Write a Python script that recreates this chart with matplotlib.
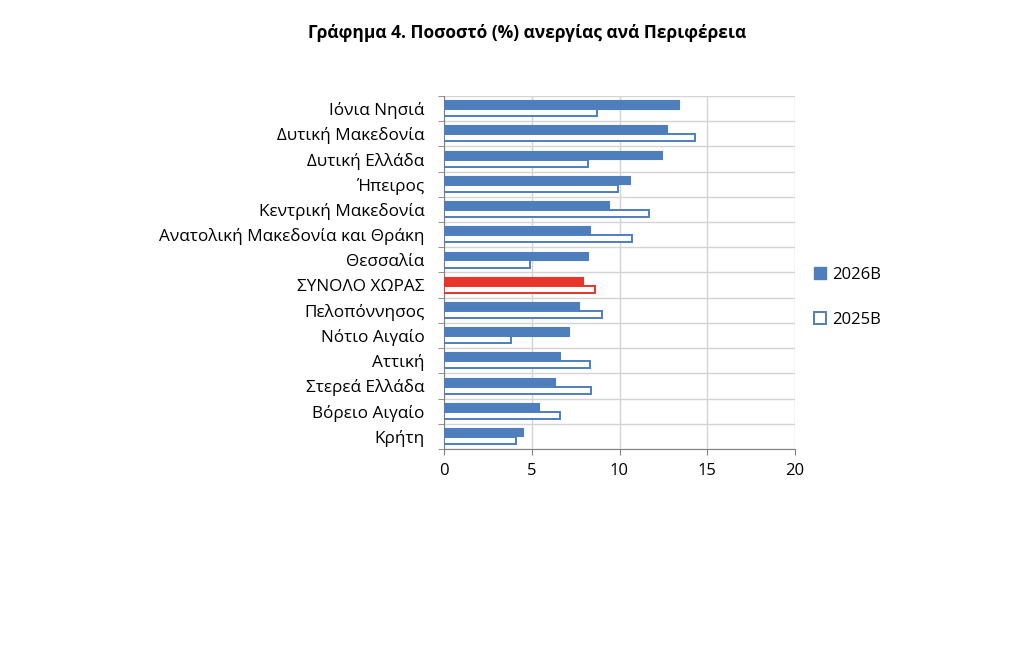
import numpy as np
import matplotlib
matplotlib.use("Agg")
import matplotlib.pyplot as plt
from matplotlib.patches import Patch

plt.rcParams['font.family'] = ['Open Sans', 'DejaVu Sans']

regions = ["Ιόνια Νησιά", "Δυτική Μακεδονία", "Δυτική Ελλάδα", "Ήπειρος",
           "Κεντρική Μακεδονία", "Ανατολική Μακεδονία και Θράκη", "Θεσσαλία",
           "ΣΥΝΟΛΟ ΧΩΡΑΣ", "Πελοπόννησος", "Νότιο Αιγαίο", "Αττική",
           "Στερεά Ελλάδα", "Βόρειο Αιγαίο", "Κρήτη"]
rate_2026 = [13.4, 12.7, 12.4, 10.6, 9.4, 8.3, 8.2, 7.9, 7.7, 7.1, 6.6, 6.3, 5.4, 4.5]
rate_2025 = [8.7, 14.3, 8.2, 9.9, 11.7, 10.7, 4.9, 8.6, 9.0, 3.8, 8.3, 8.4, 6.6, 4.1]
total_label = "ΣΥΝΟΛΟ ΧΩΡΑΣ"

blue = "#4F7EBD"
red = "#E8342A"

fig = plt.figure(figsize=(10.24, 6.45), dpi=100)
ax = fig.add_axes([0.4336, 0.3039, 0.3428, 0.5473])

n = len(regions)
y = np.arange(n)
h = 0.33
colors = [red if r == total_label else blue for r in regions]

ax.barh(y - h / 2, rate_2026, height=h, color=colors, edgecolor=colors, linewidth=0.8, zorder=3)
ax.barh(y + h / 2, rate_2025, height=h * 0.85, color="white", edgecolor=colors, linewidth=1.4, zorder=3)

ax.set_ylim(n - 0.5, -0.5)
ax.set_xlim(0, 20)
ax.set_xticks([0, 5, 10, 15, 20])
ax.set_yticks(y)
ax.set_yticklabels(regions, fontsize=12.3)
ax.set_yticks(np.arange(-0.5, n, 1), minor=True)
ax.tick_params(axis="y", which="major", length=0, pad=14)
ax.tick_params(axis="y", which="minor", length=4, color="#808080")
ax.tick_params(axis="x", length=4, color="#808080", labelsize=12, pad=6)

ax.grid(axis="x", which="major", color="#D4D4D4", linewidth=1, zorder=0)
ax.grid(axis="y", which="minor", color="#D4D4D4", linewidth=1, zorder=0)
ax.set_axisbelow(True)
for s in ["top", "right"]:
    ax.spines[s].set_visible(False)
for s in ["left", "bottom"]:
    ax.spines[s].set_color("#808080")

handles = [Patch(facecolor=blue, edgecolor=blue), Patch(facecolor="white", edgecolor=blue, linewidth=1.4)]
fig.legend(handles, ["2026B", "2025B"], loc="center left", bbox_to_anchor=(0.78, 0.539),
           frameon=False, fontsize=12, labelspacing=1.75, handlelength=0.75, handleheight=0.75,
           handletextpad=0.35)

fig.text(0.515, 0.949, "Γράφημα 4. Ποσοστό (%) ανεργίας ανά Περιφέρεια",
         ha="center", va="center", fontsize=12.5, fontweight="bold")

fig.savefig("out.png", dpi=100)
